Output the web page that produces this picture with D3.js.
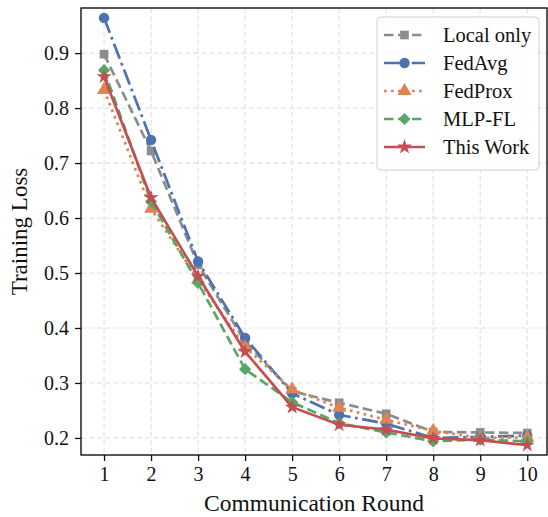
<!DOCTYPE html>
<html lang="en">
<head>
<meta charset="utf-8" />
<title>Training Loss</title>
<script src="https://d3js.org/d3.v7.min.js"></script>
<style>
  body { margin: 0; background: #fff; }
  svg text { font-family: "Liberation Serif", "DejaVu Serif", serif; fill: #111; }
</style>
</head>
<body>
<div id="chart"></div>
<script>
// data
const rounds = [1, 2, 3, 4, 5, 6, 7, 8, 9, 10];
const localOnly = [0.898, 0.722, 0.515, 0.375, 0.285, 0.264, 0.244, 0.211, 0.210, 0.209];
const fedAvg    = [0.964, 0.742, 0.521, 0.382, 0.281, 0.242, 0.226, 0.200, 0.202, 0.204];
const fedProx   = [0.833, 0.617, 0.488, 0.365, 0.288, 0.255, 0.233, 0.213, 0.200, 0.201];
const mlpFl     = [0.869, 0.630, 0.482, 0.325, 0.265, 0.227, 0.210, 0.194, 0.197, 0.194];
const thisWork  = [0.857, 0.637, 0.494, 0.357, 0.256, 0.224, 0.215, 0.199, 0.196, 0.187];
const yTicks = [0.2, 0.3, 0.4, 0.5, 0.6, 0.7, 0.8, 0.9];

const serif = '"Liberation Serif", "DejaVu Serif", serif';

const series = [
  { name: "Local only", values: localOnly, color: "#8c8c8c", dash: "9.5,4.5",        marker: "square" },
  { name: "FedAvg",     values: fedAvg,    color: "#4c72b0", dash: "16,4.5,2.7,4.5", marker: "circle" },
  { name: "FedProx",    values: fedProx,   color: "#dd8452", dash: "2.7,4.3",        marker: "triangle" },
  { name: "MLP-FL",     values: mlpFl,     color: "#55a868", dash: "9.5,4.5",        marker: "diamond" },
  { name: "This Work",  values: thisWork,  color: "#c44e52", dash: null,             marker: "star" }
];

const W = 548, H = 517;
const margin = { top: 8, right: 1, bottom: 62, left: 81 };
const width = W - margin.left - margin.right;
const height = H - margin.top - margin.bottom;

const svg = d3.select("#chart").append("svg")
  .attr("width", W).attr("height", H);

const g = svg.append("g")
  .attr("transform", `translate(${margin.left},${margin.top})`);

const x = d3.scaleLinear().domain([0.51, 10.42]).range([0, width]);
const y = d3.scaleLinear().domain([0.169, 0.982]).range([height, 0]);

// grid
g.append("g").selectAll("line").data(rounds).join("line")
  .attr("x1", d => x(d)).attr("x2", d => x(d))
  .attr("y1", 0).attr("y2", height)
  .attr("stroke", "#e2e2e2").attr("stroke-width", 1.2).attr("stroke-dasharray", "5,3");
g.append("g").selectAll("line").data(yTicks).join("line")
  .attr("y1", d => y(d)).attr("y2", d => y(d))
  .attr("x1", 0).attr("x2", width)
  .attr("stroke", "#e2e2e2").attr("stroke-width", 1.2).attr("stroke-dasharray", "5,3");

// axes
const xAxis = g.append("g").attr("transform", `translate(0,${height})`)
  .call(d3.axisBottom(x).tickValues(rounds).tickFormat(d3.format("d")).tickSize(6).tickPadding(6));
const yAxis = g.append("g")
  .call(d3.axisLeft(y).tickValues(yTicks).tickFormat(d3.format(".1f")).tickSize(6).tickPadding(6));
[xAxis, yAxis].forEach(a => {
  a.attr("font-family", serif).attr("font-size", 20);
  a.select(".domain").remove();
  a.selectAll(".tick line").attr("stroke", "#111").attr("stroke-width", 1.3);
  a.selectAll("text")
    .style("font-family", serif)
    .style("font-size", "20px")
    .attr("fill", "#111");
});

// symbols
const symbolFor = {
  square: d3.symbol(d3.symbolSquare, 75),
  circle: d3.symbol(d3.symbolCircle, 85),
  triangle: d3.symbol(d3.symbolTriangle, 85),
  diamond: d3.symbol(d3.symbolSquare, 75),
  star: d3.symbol(d3.symbolStar, 70)
};

const line = d3.line().x((d, i) => x(rounds[i])).y(d => y(d));

series.forEach(s => {
  const sg = g.append("g");
  sg.append("path")
    .attr("d", line(s.values))
    .attr("fill", "none")
    .attr("stroke", s.color)
    .attr("stroke-width", 2.7)
    .attr("stroke-dasharray", s.dash);
  sg.selectAll("path.m").data(s.values).join("path")
    .attr("class", "m")
    .attr("d", symbolFor[s.marker]())
    .attr("transform", (d, i) => `translate(${x(rounds[i])},${y(d)})` + (s.marker === "diamond" ? " rotate(45)" : ""))
    .attr("fill", s.color);
});

// frame
g.append("rect").attr("width", width).attr("height", height)
  .attr("fill", "none").attr("stroke", "#111").attr("stroke-width", 1.4);

// axis labels
svg.append("text")
  .attr("x", margin.left + width / 2).attr("y", 511)
  .attr("text-anchor", "middle").style("font-size", "23.5px")
  .text("Communication Round");
svg.append("text")
  .attr("transform", `translate(27,${margin.top + height / 2}) rotate(-90)`)
  .attr("text-anchor", "middle").style("font-size", "23px")
  .text("Training Loss");

// legend
const lg = svg.append("g").attr("transform", "translate(377,17)");
lg.append("rect").attr("width", 162).attr("height", 153).attr("rx", 4)
  .attr("fill", "rgba(255,255,255,0.85)").attr("stroke", "#d0d0d0").attr("stroke-width", 1);
series.forEach((s, i) => {
  const yy = 18 + i * 28;
  const it = lg.append("g").attr("transform", `translate(0,${yy})`);
  it.append("line").attr("x1", 7).attr("x2", 48).attr("y1", 0).attr("y2", 0)
    .attr("stroke", s.color).attr("stroke-width", 2.7).attr("stroke-dasharray", s.dash);
  it.append("path").attr("d", symbolFor[s.marker]())
    .attr("transform", "translate(27.5,0)" + (s.marker === "diamond" ? " rotate(45)" : ""))
    .attr("fill", s.color);
  it.append("text").attr("x", 66).attr("y", 7).style("font-size", "20.5px").text(s.name);
});
</script>
</body>
</html>
